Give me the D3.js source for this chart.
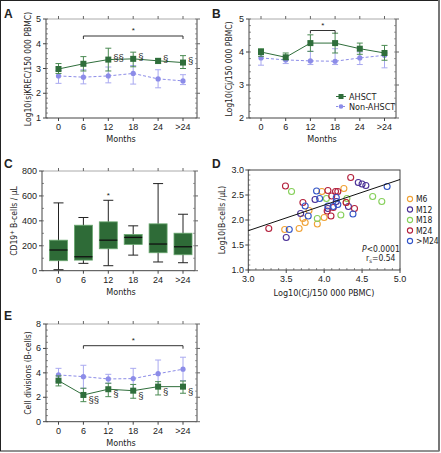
<!DOCTYPE html>
<html><head><meta charset="utf-8">
<script src="https://cdn.jsdelivr.net/npm/d3@7"></script>
<style>
body{margin:0;background:#fff}
svg{display:block}
text{font-family:"Liberation Sans",Arial,sans-serif;fill:#222}
.narrow{font-family:"Liberation Sans Narrow","DejaVu Sans Condensed",sans-serif}
</style>
</head><body><svg id="c" width="441" height="453"></svg>
<script>
const months = ["0","6","12","18","24",">24"];
// Panel A: Log10(sjKREC/150 000 PBMC)
const aAhsct   = [2.98,3.19,3.36,3.39,3.31,3.24];
const aAhsctHi = [3.20,3.48,3.82,3.66,3.40,3.52];
const aAhsctLo = [2.80,2.90,2.90,3.07,3.20,3.00];
const aNon     = [2.70,2.65,2.70,2.80,2.58,2.50];
const aNonHi   = [2.92,2.95,3.06,3.12,2.95,2.75];
const aNonLo   = [2.40,2.38,2.42,2.37,2.22,2.35];
const aYTicks  = [1,2,3,4,5];
const aMarks   = ["","","§§","§","§","§"];
// Panel B: Log10(Cj/150 000 PBMC)
const bAhsct   = [4.00,3.84,4.27,4.27,4.10,3.97];
const bAhsctHi = [4.10,3.97,4.52,4.57,4.27,4.20];
const bAhsctLo = [3.87,3.77,4.02,3.97,3.93,3.75];
const bNon     = [3.82,3.76,3.73,3.72,3.82,3.90];
const bNonHi   = [4.07,3.87,4.02,4.10,4.00,3.97];
const bNonLo   = [3.60,3.65,3.62,3.62,3.62,3.52];
const bYTicks  = [2,3,4,5];
const seriesNames = ["AHSCT","Non-AHSCT"];
// Panel C: CD19+ B-cells / µL (box plots)
const cWhiskLo = [8,59,40,125,70,64];
const cQ1      = [80,85,176,211,144,128];
const cMedian  = [166,112,245,267,214,192];
const cQ3      = [245,365,392,291,376,301];
const cWhiskHi = [544,427,565,360,699,453];
const cYTicks  = [0,200,400,600,800];
// Panel D: scatter Log10(Cj) vs Log10(B-cells)
const dGroups = ["M6","M12","M18","M24",">M24"];
const dM6x  = [3.48,3.67,3.72,3.75,3.80,3.91,3.97,4.00,4.26,4.29];
const dM6y  = [1.81,1.83,2.03,1.95,2.19,1.92,2.57,2.05,2.63,2.35];
const dM12x = [3.50,3.69,3.88,4.05,4.45,4.50,4.55,4.32,4.16];
const dM12y = [1.65,2.13,2.41,2.23,2.75,2.72,2.69,2.27,2.37];
const dM18x = [3.57,3.91,4.03,4.22,4.30,4.64,4.76];
const dM18y = [2.57,2.03,2.43,2.10,2.43,2.47,2.37];
const dM24x = [3.49,3.27,3.72,4.05,4.10,4.15,4.18,4.35,4.12,4.09,4.04,4.40,4.29];
const dM24y = [2.68,1.83,2.35,2.59,2.48,2.57,2.57,2.85,2.25,2.08,2.18,2.23,2.35];
const dGtx  = [3.54,3.75,3.79,3.90,3.94,4.05,4.16,4.18,4.38,4.83,4.12];
const dGty  = [1.81,2.28,2.08,2.58,2.43,2.28,2.45,2.31,2.12,2.67,2.27];
const dFitX = [3.0,5.0];
const dFitY = [1.786,2.81];
const dXTicks = [3.0,3.5,4.0,4.5,5.0];
const dYTicks = [1.0,1.5,2.0,2.5,3.0];
// Panel E: Cell divisions (B-cells)
const eAhsct   = [3.36,2.19,2.66,2.54,2.87,2.87];
const eAhsctHi = [3.75,2.74,3.15,3.05,3.28,3.33];
const eAhsctLo = [2.93,1.64,2.05,1.92,2.19,2.33];
const eNon     = [3.83,3.69,3.50,3.53,3.93,4.30];
const eNonHi   = [4.37,4.62,3.88,4.37,5.05,5.28];
const eNonLo   = [3.30,2.74,3.15,2.66,2.87,3.36];
const eYTicks  = [0,2,4,6,8];
const eMarks   = ["","§§","§","§","§","§"];

const GREEN="#2f6e3b", GREEN_ERR="#4a8a52", BLUE="#8c8ce8", BLUE_ERR="#a9a9f0";
const svg = d3.select("#c");
svg.append("rect").attr("x",0.5).attr("y",0.5).attr("width",438.5).attr("height",450.5)
  .attr("fill","#fff").attr("stroke","#222").attr("stroke-width",1);
svg.append("line").attr("x1",439).attr("x2",439).attr("y1",0).attr("y2",451).attr("stroke","#777").attr("stroke-width",2);

function frame(g, L, R, T, B, y, yTicks, minorStep, x, xCats){
  const axc="#444";
  g.append("line").attr("x1",L).attr("x2",R).attr("y1",T).attr("y2",T).attr("stroke","#aaa");
  g.append("line").attr("x1",R).attr("x2",R).attr("y1",T).attr("y2",B).attr("stroke","#666").attr("stroke-width",1.2);
  g.append("line").attr("x1",L).attr("x2",L).attr("y1",T).attr("y2",B).attr("stroke",axc);
  g.append("line").attr("x1",L).attr("x2",R).attr("y1",B).attr("y2",B).attr("stroke",axc);
  const d=y.domain();
  if(minorStep){
    for(let v=d[0]; v<=d[1]+1e-9; v+=minorStep){
      g.append("line").attr("x1",L).attr("x2",L+2).attr("y1",y(v)).attr("y2",y(v)).attr("stroke",axc).attr("stroke-width",0.6);
      g.append("line").attr("x1",R).attr("x2",R-2).attr("y1",y(v)).attr("y2",y(v)).attr("stroke","#666").attr("stroke-width",0.6);
    }
  }
  yTicks.forEach(v=>{
    g.append("line").attr("x1",L-3).attr("x2",L).attr("y1",y(v)).attr("y2",y(v)).attr("stroke",axc);
    g.append("line").attr("x1",R).attr("x2",R+3).attr("y1",y(v)).attr("y2",y(v)).attr("stroke","#666");
    g.append("text").attr("x",L-5).attr("y",y(v)+3).attr("text-anchor","end").attr("font-size",9).text(v);
  });
  if(xCats){
    xCats.forEach(c=>{
      g.append("line").attr("x1",x(c)).attr("x2",x(c)).attr("y1",B).attr("y2",B+3).attr("stroke",axc);
      g.append("line").attr("x1",x(c)).attr("x2",x(c)).attr("y1",T).attr("y2",T-3).attr("stroke","#666");
      g.append("text").attr("x",x(c)).attr("y",B+12).attr("text-anchor","middle").attr("font-size",9).text(c);
    });
  }
}
function yTitle(g, xPos, yPos, txt){
  return g.append("text").attr("class","narrow").attr("transform",`translate(${xPos},${yPos}) rotate(-90)`)
    .attr("text-anchor","middle").attr("font-size",8.5).text(txt);
}
function xTitle(g, xPos, yPos, txt){
  return g.append("text").attr("class","narrow").attr("x",xPos).attr("y",yPos).attr("text-anchor","middle").attr("font-size",9).text(txt);
}
function letter(t, x, y){
  svg.append("text").attr("x",x).attr("y",y).attr("font-size",12).attr("font-weight","bold").text(t);
}
function series(g, x, y, vals, hi, lo, col, ecol, shape, dashed){
  const gg=g.append("g");
  months.forEach((m,i)=>{
    const cx=x(m);
    gg.append("line").attr("x1",cx).attr("x2",cx).attr("y1",y(hi[i])).attr("y2",y(lo[i])).attr("stroke",ecol).attr("stroke-width",1);
    [hi[i],lo[i]].forEach(v=>gg.append("line").attr("x1",cx-3).attr("x2",cx+3).attr("y1",y(v)).attr("y2",y(v)).attr("stroke",ecol).attr("stroke-width",1));
  });
  const line=d3.line().x((d,i)=>x(months[i])).y(d=>y(d));
  gg.append("path").attr("d",line(vals)).attr("fill","none").attr("stroke",col).attr("stroke-width",1)
    .attr("stroke-dasharray",dashed?"3,2":null);
  vals.forEach((v,i)=>{
    if(shape==="square") gg.append("rect").attr("x",x(months[i])-3).attr("y",y(v)-3).attr("width",6).attr("height",6).attr("fill",col);
    else gg.append("circle").attr("cx",x(months[i])).attr("cy",y(v)).attr("r",2.6).attr("fill",col);
  });
}
function bracket(g, x1, x2, yy){
  g.append("path").attr("d",`M${x1},${yy+3}V${yy}H${x2}V${yy+3}`).attr("fill","none").attr("stroke","#333").attr("stroke-width",1);
  g.append("text").attr("x",(x1+x2)/2).attr("y",yy-3).attr("text-anchor","middle").attr("font-size",8).text("*");
}

// ---- Panel A
{
  const g=svg.append("g");
  const x=d3.scalePoint().domain(months).range([58.5,183]);
  const y=d3.scaleLinear().domain([1,5]).range([118,19]);
  frame(g,46,197,19,118,y,aYTicks,0.2,x,months);
  series(g,x,y,aNon,aNonHi,aNonLo,BLUE,BLUE_ERR,"circle",true);
  series(g,x,y,aAhsct,aAhsctHi,aAhsctLo,GREEN,GREEN_ERR,"square",false);
  bracket(g,x("6"),x(">24"),36);
  aMarks.forEach((s,i)=>{ if(s) g.append("text").attr("x",x(months[i])+5).attr("y",y(aAhsct[i])+1).attr("font-size",9.5).text(s); });
  yTitle(g,31,69,"Log10(sjKREC/150 000 PBMC)");
  xTitle(g,121,142,"Months");
  letter("A",4,18);
}
// ---- Panel B
{
  const g=svg.append("g");
  const x=d3.scalePoint().domain(months).range([261,384.5]);
  const y=d3.scaleLinear().domain([2,5]).range([118,19]);
  frame(g,249,396,19,118,y,bYTicks,0.2,x,months);
  series(g,x,y,bNon,bNonHi,bNonLo,BLUE,BLUE_ERR,"circle",true);
  series(g,x,y,bAhsct,bAhsctHi,bAhsctLo,GREEN,GREEN_ERR,"square",false);
  bracket(g,x("12"),x("18"),30.5);
  yTitle(g,232,69,"Log10(Cj/150 000 PBMC)");
  xTitle(g,322,142,"Months");
  letter("B",212,18);
  // legend
  const lg=g.append("g");
  [[seriesNames[0],GREEN,"square",false,96.5],[seriesNames[1],BLUE,"circle",true,106.5]].forEach(([t,c,s,dsh,yy])=>{
    lg.append("line").attr("x1",336).attr("x2",346).attr("y1",yy).attr("y2",yy).attr("stroke",c).attr("stroke-dasharray",dsh?"2,1.5":null);
    if(s==="square") lg.append("rect").attr("x",338.5).attr("y",yy-2.5).attr("width",5).attr("height",5).attr("fill",c);
    else lg.append("circle").attr("cx",341).attr("cy",yy).attr("r",2.3).attr("fill",c);
    lg.append("text").attr("class","narrow").attr("x",349).attr("y",yy+3).attr("font-size",9).text(t);
  });
}
// ---- Panel C
{
  const g=svg.append("g");
  const x=d3.scalePoint().domain(months).range([58.5,183]);
  const y=d3.scaleLinear().domain([0,800]).range([270.7,171]);
  frame(g,42,195,171,270.7,y,cYTicks,100,x,months);
  months.forEach((m,i)=>{
    const cx=x(m), w=18;
    g.append("line").attr("x1",cx).attr("x2",cx).attr("y1",y(cWhiskHi[i])).attr("y2",y(cWhiskLo[i])).attr("stroke","#222");
    [cWhiskHi[i],cWhiskLo[i]].forEach(v=>g.append("line").attr("x1",cx-5).attr("x2",cx+5).attr("y1",y(v)).attr("y2",y(v)).attr("stroke","#222"));
    g.append("rect").attr("x",cx-w/2).attr("y",y(cQ3[i])).attr("width",w).attr("height",y(cQ1[i])-y(cQ3[i]))
      .attr("fill","#2e6b37").attr("stroke","#6aa870").attr("stroke-width",0.8);
    g.append("line").attr("x1",cx-w/2).attr("x2",cx+w/2).attr("y1",y(cMedian[i])).attr("y2",y(cMedian[i])).attr("stroke","#111").attr("stroke-width",1.3);
  });
  g.append("text").attr("x",x("12")).attr("y",y(cWhiskHi[2])-2).attr("text-anchor","middle").attr("font-size",8).text("*");
  const t=g.append("text").attr("class","narrow").attr("transform","translate(17,221) rotate(-90)").attr("text-anchor","middle").attr("font-size",8.5);
  t.append("tspan").text("CD19");
  t.append("tspan").attr("dy",-3).attr("font-size",6).text("+");
  t.append("tspan").attr("dy",3).text(" B-cells / µL");
  xTitle(g,121,295,"Months");
  letter("C",4,168);
}
// ---- Panel D
{
  const g=svg.append("g");
  const x=d3.scaleLinear().domain([3,5]).range([248.3,400]);
  const y=d3.scaleLinear().domain([1,3]).range([270,170]);
  const axc="#444";
  g.append("rect").attr("x",248.3).attr("y",170).attr("width",400-248.3).attr("height",100).attr("fill","none").attr("stroke",axc);
  for(let v=3; v<=5.0001; v+=0.1){
    g.append("line").attr("x1",x(v)).attr("x2",x(v)).attr("y1",270).attr("y2",268).attr("stroke",axc).attr("stroke-width",0.6);
  }
  for(let v=1; v<=3.0001; v+=0.1){
    g.append("line").attr("x1",248.3).attr("x2",250.3).attr("y1",y(v)).attr("y2",y(v)).attr("stroke",axc).attr("stroke-width",0.6);
  }
  dXTicks.forEach(v=>{
    g.append("line").attr("x1",x(v)).attr("x2",x(v)).attr("y1",270).attr("y2",273).attr("stroke",axc);
    g.append("text").attr("x",x(v)).attr("y",282).attr("text-anchor","middle").attr("font-size",9).text(v.toFixed(1));
  });
  dYTicks.forEach(v=>{
    g.append("line").attr("x1",245.3).attr("x2",248.3).attr("y1",y(v)).attr("y2",y(v)).attr("stroke",axc);
    g.append("text").attr("x",244).attr("y",y(v)+3).attr("text-anchor","end").attr("font-size",9).text(v.toFixed(1));
  });
  const cols=["#f0a236","#4a2f96","#86d05a","#b3203c","#3355c8"];
  const xs=[dM6x,dM12x,dM18x,dM24x,dGtx], ys=[dM6y,dM12y,dM18y,dM24y,dGty];
  xs.forEach((arr,k)=>arr.forEach((v,i)=>{
    g.append("circle").attr("cx",x(v)).attr("cy",y(ys[k][i])).attr("r",3).attr("fill","none").attr("stroke",cols[k]).attr("stroke-width",1.1);
  }));
  g.append("line").attr("x1",x(dFitX[0])).attr("x2",x(dFitX[1])).attr("y1",y(dFitY[0])).attr("y2",y(dFitY[1])).attr("stroke","#111").attr("stroke-width",1);
  const p=g.append("text").attr("class","narrow").attr("x",362).attr("y",252).attr("font-size",8.5);
  p.append("tspan").attr("font-style","italic").text("P");
  p.append("tspan").text("<0.0001");
  const r=g.append("text").attr("class","narrow").attr("x",366).attr("y",261).attr("font-size",8.5);
  r.append("tspan").text("r");
  r.append("tspan").attr("font-size",6).attr("dy",2).text("s");
  r.append("tspan").attr("dy",-2).text("=0.54");
  dGroups.forEach((n,k)=>{
    const yy=199+k*10.5;
    g.append("circle").attr("cx",410).attr("cy",yy).attr("r",2.6).attr("fill","none").attr("stroke",cols[k]).attr("stroke-width",1.1);
    g.append("text").attr("class","narrow").attr("x",416).attr("y",yy+3).attr("font-size",8.5).text(n);
  });
  yTitle(g,225,220,"Log10(B-cells /µL)");
  xTitle(g,324,296,"Log10(Cj/150 000 PBMC)");
  letter("D",212,168);
}
// ---- Panel E
{
  const g=svg.append("g");
  const x=d3.scalePoint().domain(months).range([58.5,183]);
  const y=d3.scaleLinear().domain([0,8]).range([421.7,324]);
  frame(g,46,197,324,421.7,y,eYTicks,0.5,x,months);
  series(g,x,y,eNon,eNonHi,eNonLo,BLUE,BLUE_ERR,"circle",true);
  series(g,x,y,eAhsct,eAhsctHi,eAhsctLo,GREEN,GREEN_ERR,"square",false);
  bracket(g,x("6"),x(">24"),345.7);
  eMarks.forEach((s,i)=>{ if(s) g.append("text").attr("x",x(months[i])+5).attr("y",y(eAhsct[i])+8).attr("font-size",9.5).text(s); });
  yTitle(g,31,373,"Cell divisions (B-cells)");
  xTitle(g,121,446,"Months");
  letter("E",4,320);
}
</script></body></html>
